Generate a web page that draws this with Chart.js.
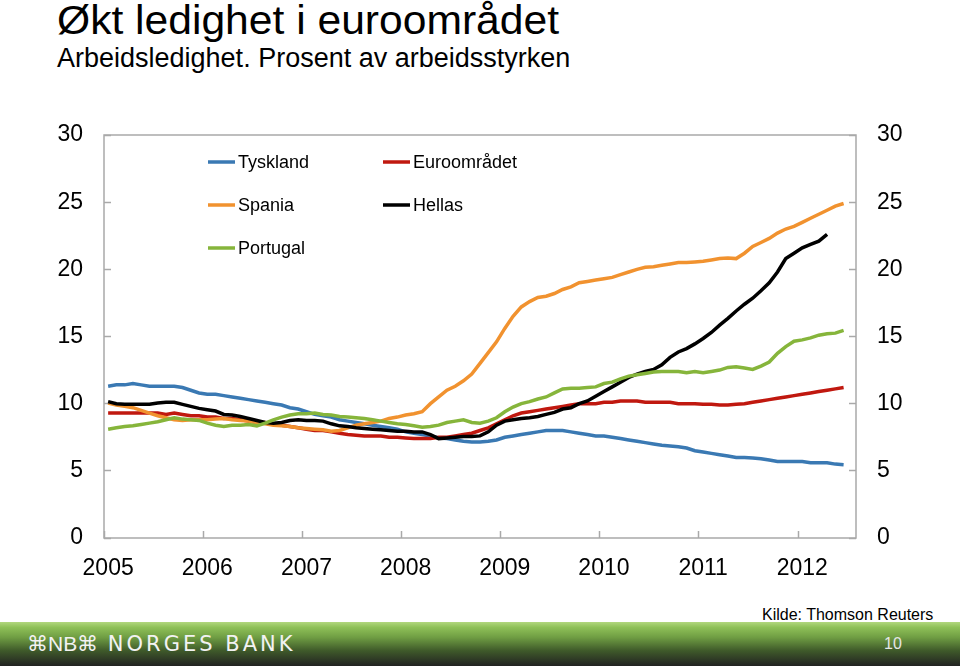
<!DOCTYPE html>
<html>
<head>
<meta charset="utf-8">
<script src="https://cdn.jsdelivr.net/npm/chart.js@4.4.0/dist/chart.umd.min.js"></script>
<style>
  body { margin: 0; width: 960px; height: 666px; position: relative; overflow: hidden; background: #fff;
         font-family: 'Liberation Sans', Arial, sans-serif; color: #000; }
  #title { position: absolute; left: 57px; top: 0px; font-size: 40px; line-height: 40px; white-space: nowrap;
           transform: scaleX(1.065); transform-origin: left top; }
  #sub { position: absolute; left: 57px; top: 45px; font-size: 27px; line-height: 27px; white-space: nowrap; }
  #wrap { position: absolute; left: 0; top: 0; width: 960px; height: 600px; }
  #source { position: absolute; left: 762px; top: 607px; font-size: 16px; line-height: 16px; white-space: nowrap; }
  #band { position: absolute; left: 0; top: 622px; width: 960px; height: 44px;
          background: linear-gradient(to bottom, #b2d77e 0%, #8fc158 12%, #6f9d43 35%, #3f5a2a 65%, #222 100%); }
  #logo { position: absolute; left: 27px; top: 10px; color: #f2f2f2; font-family: 'DejaVu Sans', sans-serif;
          font-size: 21px; line-height: 24px; letter-spacing: 3px; white-space: nowrap; }
  #logo b { font-weight: normal; font-family: 'Liberation Sans', sans-serif; letter-spacing: 0; }
  #page { position: absolute; left: 884px; top: 14px; color: #e6e6e6; font-size: 16px; line-height: 16px; }
</style>
</head>
<body>
<div id="title">Økt ledighet i euroområdet</div>
<div id="sub">Arbeidsledighet. Prosent av arbeidsstyrken</div>
<div id="wrap"><canvas id="chart" width="960" height="600"></canvas></div>
<div id="source">Kilde: Thomson Reuters</div>
<div id="band"><div id="logo"><b>⌘NB⌘</b> NORGES BANK</div><div id="page">10</div></div>
<script>
// monthly figures, jan 2005 onwards (percent of labour force)
const years = ['2005', '2006', '2007', '2008', '2009', '2010', '2011', '2012'];
const monthNames = ['jan', 'feb', 'mar', 'apr', 'mai', 'jun', 'jul', 'aug', 'sep', 'okt', 'nov', 'des'];
const categories = years.flatMap(y => monthNames.map(m => m + ' ' + y)).slice(0, 91);

const tyskland = [
  11.3, 11.4, 11.4, 11.5, 11.4, 11.3, 11.3, 11.3, 11.3, 11.2, 11.0, 10.8,
  10.7, 10.7, 10.6, 10.5, 10.4, 10.3, 10.2, 10.1, 10.0, 9.9, 9.7, 9.6,
  9.4, 9.2, 9.1, 9.0, 8.8, 8.7, 8.6, 8.5, 8.4, 8.3, 8.2, 8.1,
  7.9, 7.8, 7.7, 7.6, 7.45, 7.4, 7.3, 7.2, 7.15, 7.15, 7.2, 7.3,
  7.5, 7.6, 7.7, 7.8, 7.9, 8.0, 8.0, 8.0, 7.9, 7.8, 7.7, 7.6,
  7.6, 7.5, 7.4, 7.3, 7.2, 7.1, 7.0, 6.9, 6.85, 6.8, 6.7, 6.5,
  6.4, 6.3, 6.2, 6.1, 6.0, 6.0, 5.95, 5.9, 5.8, 5.7, 5.7, 5.7,
  5.7, 5.6, 5.6, 5.6, 5.5, 5.45
];
const euroomradet = [
  9.3, 9.3, 9.3, 9.3, 9.3, 9.3, 9.3, 9.2, 9.3, 9.2, 9.1, 9.1,
  9.0, 9.0, 8.9, 8.9, 8.8, 8.7, 8.6, 8.6, 8.5, 8.4, 8.3, 8.2,
  8.1, 8.0, 8.0, 7.9, 7.8, 7.7, 7.65, 7.6, 7.6, 7.6, 7.5, 7.5,
  7.45, 7.4, 7.4, 7.4, 7.5, 7.5, 7.6, 7.7, 7.8, 8.0, 8.2, 8.5,
  8.8, 9.1, 9.3, 9.4, 9.5, 9.6, 9.7, 9.8, 9.9, 10.0, 10.0, 10.0,
  10.1, 10.1, 10.2, 10.2, 10.2, 10.1, 10.1, 10.1, 10.1, 10.0, 10.0, 10.0,
  9.95, 9.95, 9.9, 9.9, 9.95, 10.0, 10.1, 10.2, 10.3, 10.4, 10.5, 10.6,
  10.7, 10.8, 10.9, 11.0, 11.1, 11.2
];
const spania = [
  10.05, 9.9, 9.8, 9.7, 9.5, 9.3, 9.1, 8.95, 8.8, 8.75, 8.8, 8.8,
  8.8, 8.85, 8.9, 8.8, 8.75, 8.7, 8.6, 8.5, 8.4, 8.35, 8.3, 8.2,
  8.15, 8.1, 8.05, 7.95, 8.0, 8.2, 8.4, 8.5, 8.6, 8.7, 8.9, 9.0,
  9.15, 9.25, 9.4, 10.0, 10.5, 11.0, 11.3, 11.7, 12.2, 13.0, 13.8, 14.6,
  15.6, 16.5, 17.2, 17.6, 17.9, 18.0, 18.2, 18.5, 18.7, 19.0, 19.1, 19.2,
  19.3, 19.4, 19.6, 19.8, 20.0, 20.15, 20.2, 20.3, 20.4, 20.5, 20.5, 20.55,
  20.6, 20.7, 20.8, 20.85, 20.8, 21.2, 21.7, 22.0, 22.3, 22.7, 23.0, 23.2,
  23.5, 23.8, 24.1, 24.4, 24.7, 24.9
];
const hellas = [
  10.15, 10.0, 9.95, 9.95, 9.95, 9.95, 10.05, 10.1, 10.1, 9.95, 9.8, 9.65,
  9.55, 9.45, 9.2, 9.15, 9.05, 8.9, 8.75, 8.6, 8.55, 8.6, 8.75, 8.8,
  8.75, 8.75, 8.7, 8.5, 8.35, 8.3, 8.2, 8.15, 8.1, 8.05, 8.0, 7.95,
  7.95, 7.9, 7.9, 7.7, 7.4, 7.45, 7.5, 7.55, 7.55, 7.6, 7.9, 8.4,
  8.7, 8.8, 8.9, 8.95, 9.05, 9.2, 9.35, 9.6, 9.7, 10.0, 10.2, 10.55,
  10.9, 11.25, 11.6, 11.95, 12.2, 12.4, 12.55, 12.9, 13.45, 13.85, 14.1, 14.45,
  14.85, 15.3, 15.85, 16.35, 16.9, 17.4, 17.85, 18.4, 19.0, 19.8, 20.8, 21.2,
  21.6, 21.85, 22.1, 22.6
];
const portugal = [
  8.1, 8.2, 8.3, 8.35, 8.45, 8.55, 8.65, 8.8, 8.95, 8.85, 8.8, 8.75,
  8.55, 8.4, 8.3, 8.4, 8.4, 8.45, 8.35, 8.55, 8.8, 9.0, 9.15, 9.25,
  9.25, 9.3, 9.2, 9.15, 9.05, 9.0, 8.95, 8.9, 8.8, 8.7, 8.6, 8.5,
  8.45, 8.35, 8.25, 8.3, 8.4, 8.6, 8.7, 8.8, 8.6, 8.55, 8.7, 8.95,
  9.4, 9.75, 10.0, 10.15, 10.35, 10.5, 10.8, 11.1, 11.15, 11.15, 11.2, 11.25,
  11.5, 11.6, 11.85, 12.05, 12.15, 12.25, 12.35, 12.4, 12.4, 12.4, 12.3, 12.4,
  12.3, 12.4, 12.5, 12.7, 12.75, 12.65, 12.55, 12.8, 13.1, 13.75, 14.25, 14.65,
  14.75, 14.9, 15.1, 15.2, 15.25, 15.45
];

const yTicks = [0, 5, 10, 15, 20, 25, 30];
const fontFamily = "'Liberation Sans', Arial, sans-serif";
const axisGrey = '#a9a9a9';

// legend drawn inside the plot, two columns like the original
const insideLegend = {
  id: 'insideLegend',
  afterDatasetsDraw(chart) {
    const ctx = chart.ctx;
    const colX = [208, 383];
    const rowY = [162, 205, 248];
    ctx.save();
    ctx.font = '18px ' + fontFamily;
    ctx.textBaseline = 'middle';
    ctx.fillStyle = '#000';
    chart.data.datasets.forEach((ds, i) => {
      const x = colX[i % 2];
      const y = rowY[Math.floor(i / 2)];
      ctx.strokeStyle = ds.borderColor;
      ctx.lineWidth = 3.5;
      ctx.beginPath();
      ctx.moveTo(x, y);
      ctx.lineTo(x + 27, y);
      ctx.stroke();
      ctx.fillText(ds.label, x + 30, y + 1);
    });
    ctx.restore();
  }
};

const frame = {
  id: 'frame',
  beforeDatasetsDraw(chart) {
    const a = chart.chartArea;
    const ctx = chart.ctx;
    ctx.save();
    ctx.strokeStyle = axisGrey;
    ctx.lineWidth = 1.5;
    ctx.strokeRect(a.left, a.top, a.right - a.left, a.bottom - a.top);
    ctx.restore();
  }
};

function yAxis(position) {
  return {
    type: 'linear',
    position: position,
    min: 0,
    max: 30,
    afterBuildTicks: s => { s.ticks = yTicks.map(v => ({ value: v })); },
    afterFit: s => { s.width = 104; },
    border: { display: false },
    grid: { drawOnChartArea: false, drawTicks: true, tickLength: -7, tickWidth: 1.5, tickColor: axisGrey },
    ticks: { padding: 28, color: '#000', font: { family: fontFamily, size: 23 } }
  };
}

const datasets = [
  { label: 'Tyskland', data: tyskland, borderColor: '#3a79b3', order: 5 },
  { label: 'Euroområdet', data: euroomradet, borderColor: '#c0180f', order: 4 },
  { label: 'Spania', data: spania, borderColor: '#f1922f', order: 3 },
  { label: 'Hellas', data: hellas, borderColor: '#000000', order: 2 },
  { label: 'Portugal', data: portugal, borderColor: '#86b53b', order: 1 }
].map(d => Object.assign(d, { borderWidth: 3.5, pointRadius: 0, fill: false, tension: 0 }));

new Chart(document.getElementById('chart').getContext('2d'), {
  type: 'line',
  data: { labels: categories, datasets: datasets },
  plugins: [frame, insideLegend],
  options: {
    responsive: false,
    animation: false,
    layout: { padding: { top: 135, left: 0, right: 0, bottom: 0 } },
    plugins: { legend: { display: false }, tooltip: { enabled: false } },
    scales: {
      x: {
        type: 'category',
        offset: true,
        afterFit: s => { s.height = 62; },
        border: { display: false },
        grid: {
          offset: true, drawOnChartArea: false, drawTicks: true, tickLength: -7, tickWidth: 1.5,
          tickColor: c => (c.index % 12 === 0 ? axisGrey : 'rgba(0,0,0,0)')
        },
        ticks: {
          autoSkip: false, maxRotation: 0, minRotation: 0, padding: 24, color: '#000',
          font: { family: fontFamily, size: 23 },
          callback: (v, i) => (i % 12 === 0 ? years[i / 12] : '')
        }
      },
      y: yAxis('left'),
      y2: yAxis('right')
    }
  }
});
</script>
</body>
</html>
